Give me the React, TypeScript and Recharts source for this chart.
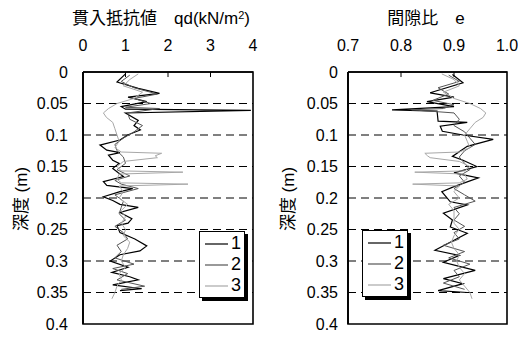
import React from 'react';
import { ScatterChart, Scatter, XAxis, YAxis, ReferenceLine } from 'recharts';

const seriesNames = ['1', '2', '3'];
const seriesColors = ['#000000', '#555555', '#a8a8a8'];
const seriesWidths = [1.2, 1, 1];

const depthTicks = [0, 0.05, 0.1, 0.15, 0.2, 0.25, 0.3, 0.35, 0.4];
const gridDepths = [0.05, 0.1, 0.15, 0.2, 0.25, 0.3, 0.35];
const qdTicks = [0, 1, 2, 3, 4];
const eTicks = [0.7, 0.8, 0.9, 1.0];
const depthDomain: [number, number] = [0, 0.4];

// 貫入抵抗値 qd — series 1
const qdDepth1 = [0.003, 0.016, 0.026, 0.034, 0.04, 0.047, 0.055, 0.059, 0.061, 0.065, 0.077, 0.085, 0.092, 0.1, 0.108, 0.116, 0.124, 0.128, 0.132, 0.14, 0.145, 0.153, 0.16, 0.166, 0.174, 0.18, 0.185, 0.19, 0.198, 0.204, 0.21, 0.215, 0.223, 0.233, 0.24, 0.244, 0.255, 0.265, 0.276, 0.284, 0.29, 0.3, 0.31, 0.318, 0.325, 0.33, 0.338, 0.344, 0.347];
const qdValue1 = [1.0, 0.8, 1.3, 1.8, 1.06, 1.5, 0.9, 1.0, 3.95, 1.0, 1.3, 1.2, 1.35, 1.05, 0.87, 0.4, 0.56, 0.87, 0.6, 0.7, 0.85, 0.7, 0.83, 0.95, 0.48, 0.56, 1.17, 0.87, 0.48, 0.7, 0.87, 1.3, 0.87, 1.15, 1.06, 0.8, 0.87, 1.22, 1.5, 1.34, 0.87, 0.64, 1.06, 0.68, 1.1, 1.3, 0.7, 1.38, 0.87];
// series 2
const qdDepth2 = [0.005, 0.015, 0.025, 0.035, 0.042, 0.05, 0.056, 0.058, 0.065, 0.075, 0.085, 0.095, 0.105, 0.115, 0.125, 0.135, 0.145, 0.155, 0.165, 0.172, 0.178, 0.185, 0.195, 0.205, 0.215, 0.225, 0.235, 0.245, 0.255, 0.265, 0.275, 0.285, 0.295, 0.305, 0.312, 0.32, 0.33, 0.34, 0.345];
const qdValue2 = [1.1, 0.9, 1.2, 1.75, 1.2, 1.6, 1.0, 1.8, 1.05, 1.1, 1.4, 1.2, 0.95, 0.75, 0.8, 0.95, 1.0, 0.8, 1.1, 0.75, 0.9, 1.3, 0.75, 0.95, 0.9, 0.85, 1.0, 0.75, 0.95, 1.05, 0.8, 0.9, 0.75, 1.2, 0.7, 1.05, 0.8, 1.45, 0.9];
// series 3
const qdDepth3 = [0.003, 0.012, 0.022, 0.032, 0.042, 0.05, 0.058, 0.065, 0.072, 0.08, 0.09, 0.1, 0.11, 0.12, 0.127, 0.129, 0.133, 0.136, 0.142, 0.15, 0.157, 0.159, 0.162, 0.17, 0.176, 0.178, 0.181, 0.19, 0.2, 0.21, 0.22, 0.23, 0.24, 0.25, 0.26, 0.27, 0.28, 0.29, 0.3, 0.31, 0.32, 0.33, 0.34, 0.35, 0.36];
const qdValue3 = [1.3, 1.1, 0.95, 1.4, 1.2, 0.8, 0.6, 0.48, 0.55, 0.7, 0.75, 0.8, 0.85, 0.75, 0.9, 1.85, 1.7, 1.75, 0.95, 0.8, 0.9, 2.35, 0.85, 0.8, 0.9, 2.47, 0.85, 0.95, 0.85, 1.05, 0.9, 1.0, 0.9, 1.0, 0.95, 1.1, 1.05, 0.95, 0.9, 1.0, 0.85, 0.9, 0.8, 0.75, 0.68];

// 間隙比 e — series 1
const eDepth1 = [0.004, 0.017, 0.033, 0.04, 0.047, 0.055, 0.06, 0.062, 0.078, 0.08, 0.086, 0.094, 0.1, 0.107, 0.118, 0.134, 0.14, 0.15, 0.16, 0.168, 0.182, 0.19, 0.206, 0.211, 0.224, 0.235, 0.246, 0.256, 0.267, 0.283, 0.291, 0.302, 0.315, 0.328, 0.336, 0.347, 0.35];
const eValue1 = [0.897, 0.917, 0.855, 0.9, 0.849, 0.9, 0.783, 0.868, 0.87, 0.925, 0.874, 0.878, 0.917, 0.974, 0.925, 0.897, 0.917, 0.943, 0.9, 0.946, 0.9, 0.877, 0.893, 0.925, 0.88, 0.897, 0.893, 0.925, 0.9, 0.864, 0.91, 0.88, 0.94, 0.88, 0.917, 0.87, 0.925];
// series 2
const eDepth2 = [0.005, 0.015, 0.025, 0.035, 0.045, 0.052, 0.058, 0.06, 0.065, 0.075, 0.085, 0.095, 0.105, 0.115, 0.125, 0.135, 0.145, 0.155, 0.165, 0.175, 0.185, 0.195, 0.205, 0.215, 0.225, 0.235, 0.245, 0.255, 0.265, 0.275, 0.285, 0.295, 0.305, 0.315, 0.325, 0.335, 0.345];
const eValue2 = [0.89, 0.91, 0.87, 0.89, 0.86, 0.9, 0.88, 0.82, 0.9, 0.91, 0.9, 0.92, 0.93, 0.94, 0.92, 0.91, 0.92, 0.93, 0.91, 0.92, 0.9, 0.92, 0.94, 0.9, 0.91, 0.9, 0.92, 0.9, 0.91, 0.88, 0.92, 0.89, 0.93, 0.9, 0.91, 0.88, 0.92];
// series 3
const eDepth3 = [0.003, 0.012, 0.022, 0.032, 0.042, 0.05, 0.058, 0.065, 0.072, 0.08, 0.09, 0.1, 0.11, 0.12, 0.127, 0.129, 0.133, 0.136, 0.142, 0.15, 0.157, 0.159, 0.162, 0.17, 0.176, 0.178, 0.181, 0.19, 0.2, 0.21, 0.22, 0.23, 0.24, 0.25, 0.26, 0.27, 0.28, 0.29, 0.3, 0.31, 0.32, 0.33, 0.34, 0.35, 0.36];
const eValue3 = [0.877, 0.9, 0.91, 0.88, 0.9, 0.93, 0.95, 0.96, 0.955, 0.94, 0.93, 0.92, 0.925, 0.93, 0.91, 0.845, 0.85, 0.855, 0.91, 0.93, 0.92, 0.826, 0.92, 0.925, 0.91, 0.822, 0.91, 0.9, 0.91, 0.89, 0.9, 0.9, 0.9, 0.91, 0.9, 0.895, 0.9, 0.91, 0.905, 0.91, 0.92, 0.91, 0.92, 0.93, 0.934];

const toPoints = (depths: number[], values: number[]) => depths.map((d, i) => ({ x: values[i], y: d }));

const FONT = "'Liberation Sans', Arial, 'Noto Sans CJK JP', sans-serif";
const TICK_DEPTH = 0.008; // inward tick length on the top axis, in depth units
const noShape = () => <g />;

const LegendBox = ({ left, top }: { left: number; top: number }) => (
  <div style={{ position: 'absolute', left, top, width: 44, height: 64, border: '1px solid #000', background: '#fff', boxShadow: '3px 3px 0 #000', fontFamily: FONT, fontSize: 18, lineHeight: '21px', paddingTop: 1, boxSizing: 'content-box' }}>
    {seriesNames.map((n, i) => (
      <div key={n} style={{ display: 'flex', alignItems: 'center', height: 21 }}>
        <svg width={31} height={21} style={{ display: 'block' }}>
          <line x1={5} x2={28} y1={11} y2={11} stroke={seriesColors[i]} strokeWidth={1.2} />
        </svg>
        <span style={{ color: '#000' }}>{n}</span>
      </div>
    ))}
  </div>
);

type PanelProps = {
  width: number;
  marginLeft: number;
  marginRight: number;
  yAxisWidth: number;
  yTickMargin: number;
  domain: [number, number];
  ticks: number[];
  xFormat: (v: number) => string;
  series: { x: number; y: number }[][];
};

const Panel = (p: PanelProps) => {
  const [x0, x1] = p.domain;
  const [d0, d1] = depthDomain;
  const frame = [{ x: x0, y: d0 }, { x: x1, y: d0 }, { x: x1, y: d1 }, { x: x0, y: d1 }, { x: x0, y: d0 }];
  const innerTicks = p.ticks.slice(1, -1).map((t) => [{ x: t, y: d0 }, { x: t, y: d0 + TICK_DEPTH }]);
  return (
    <ScatterChart width={p.width} height={337} margin={{ top: 42, left: p.marginLeft, right: p.marginRight, bottom: 13 }}>
      <XAxis type="number" dataKey="x" orientation="top" domain={p.domain} ticks={p.ticks}
        height={30} axisLine={{ stroke: '#000', strokeWidth: 1.5 }} tickMargin={15} tickFormatter={p.xFormat}
        tickLine={false} tick={{ fill: '#000', fontSize: 16, fontFamily: FONT }} />
      <YAxis type="number" dataKey="y" domain={depthDomain} ticks={depthTicks} reversed
        width={p.yAxisWidth} axisLine={{ stroke: '#000', strokeWidth: 1.8 }} tickMargin={p.yTickMargin}
        tickLine={false} tick={{ fill: '#000', fontSize: 16, fontFamily: FONT }} />
      {gridDepths.map((d) => (
        <ReferenceLine key={d} y={d} stroke="#000" strokeWidth={1} strokeDasharray="8 5" />
      ))}
      {p.series.map((pts, i) => (
        <Scatter key={i} name={seriesNames[i]} data={pts}
          line={{ stroke: seriesColors[i], strokeWidth: seriesWidths[i] }}
          shape={noShape} isAnimationActive={false} />
      ))}
      {innerTicks.map((seg, i) => (
        <Scatter key={'t' + i} name={'tick' + i} data={seg} line={{ stroke: '#000', strokeWidth: 1 }}
          shape={noShape} isAnimationActive={false} />
      ))}
      <Scatter name="frame" data={frame} line={{ stroke: '#000', strokeWidth: 1.6 }}
        shape={noShape} isAnimationActive={false} />
    </ScatterChart>
  );
};

const titleStyle: React.CSSProperties = {
  position: 'absolute', fontFamily: FONT, fontSize: 17, lineHeight: '17px', color: '#000', whiteSpace: 'pre', textAlign: 'center',
};

const yTitleStyle: React.CSSProperties = {
  position: 'absolute', fontFamily: FONT, fontSize: 17, lineHeight: '17px', color: '#000', whiteSpace: 'pre',
  transform: 'translate(-50%, -50%) rotate(-90deg)',
};

export default function App() {
  return (
    <div style={{ position: 'absolute', left: 0, top: 0, width: 518, height: 337, background: '#fff' }}>
      <div style={{ position: 'absolute', left: 0, top: 0 }}>
        <Panel width={260} marginLeft={8} marginRight={7} yAxisWidth={75} yTickMargin={9}
          domain={[0, 4]} ticks={qdTicks} xFormat={(v) => String(v)}
          series={[toPoints(qdDepth1, qdValue1), toPoints(qdDepth2, qdValue2), toPoints(qdDepth3, qdValue3)]} />
      </div>
      <div style={{ position: 'absolute', left: 260, top: 0 }}>
        <Panel width={258} marginLeft={8} marginRight={11} yAxisWidth={80} yTickMargin={4}
          domain={[0.7, 1.0]} ticks={eTicks} xFormat={(v) => v.toFixed(1)}
          series={[toPoints(eDepth1, eValue1), toPoints(eDepth2, eValue2), toPoints(eDepth3, eValue3)]} />
      </div>
      <LegendBox left={199} top={231} />
      <LegendBox left={362} top={230} />
      <div style={{ ...titleStyle, left: 40, width: 242, top: 10 }}>
        {'貫入抵抗値\u3000qd(kN/m'}<span style={{ fontSize: 11, verticalAlign: 'top', lineHeight: '10px' }}>2</span>{')'}
      </div>
      <div style={{ ...titleStyle, left: 326, width: 200, top: 10 }}>{'間隙比\u3000e'}</div>
      <div style={{ ...yTitleStyle, left: 21, top: 199 }}>{'深度 (m)'}</div>
      <div style={{ ...yTitleStyle, left: 288, top: 199 }}>{'深度 (m)'}</div>
    </div>
  );
}
